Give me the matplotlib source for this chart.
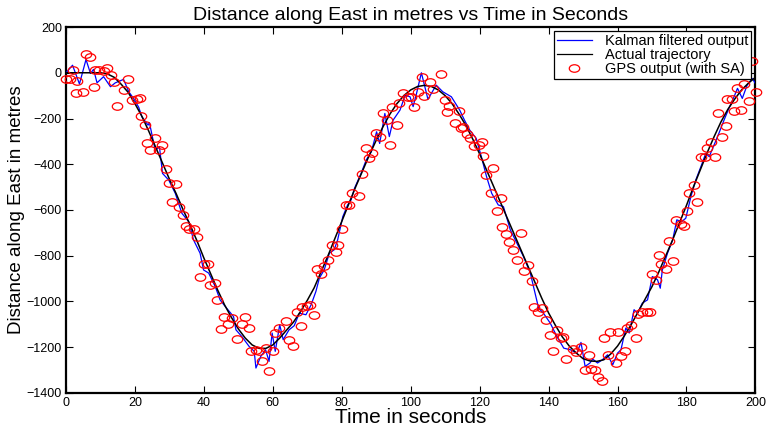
import numpy as np
import matplotlib
matplotlib.use("Agg")
import matplotlib.pyplot as plt
from matplotlib.path import Path

plt.rcParams['font.family'] = ['Liberation Sans', 'DejaVu Sans']

# ---------------- data ----------------
actual_t = list(range(0, 201, 2))
actual_v = [0, 0, 0, 0, 0, 0, -5, -20, -50, -85, -135, -190, -255, -325, -395, -465,
            -530, -600, -665, -735, -810, -880, -950, -1015, -1070, -1120, -1160, -1190,
            -1205, -1205, -1190, -1160, -1125, -1090, -1045, -995, -940, -870, -800, -725,
            -650, -575, -500, -430, -360, -295, -235, -180, -135, -100, -75, -60, -55, -60,
            -75, -100, -135, -180, -230, -290, -355, -425, -495, -565, -635, -705, -775,
            -845, -915, -985, -1050, -1105, -1155, -1195, -1225, -1250, -1260, -1262, -1255,
            -1230, -1195, -1150, -1100, -1045, -990, -935, -870, -800, -730, -655, -580,
            -500, -425, -350, -280, -215, -160, -115, -75, -45, -20]

kalman_t = [0, 1.9, 3.9, 5.8, 7.1, 8.0, 9.0, 10.9, 12.9, 14.3, 16.7, 18.2, 19.6, 21.1, 22.0,
            23.8, 24.2, 25.9, 27.1, 28.0, 29.8, 31.7, 33.6, 35.6, 37.0, 38.9, 39.9, 41.4,
            43.3, 44.7, 46.2, 48.6, 49.3, 51.1, 53.1, 54.6, 55.1, 56.5, 57.9, 58.9, 59.8,
            60.7, 62.0, 63.0, 64.7, 66.2, 67.7, 69.6, 71.1, 72.5, 73.5, 74.9, 76.4, 77.8,
            78.8, 80.3, 81.7, 82.7, 83.7, 85.6, 87.1, 88.6, 90.1, 91.0, 92.5, 93.8, 94.9,
            96.9, 98.4, 99.8, 100.7, 101.7, 103.1, 105.0, 107.4, 109.3, 111.8, 114.2, 115.6,
            117.1, 119.0, 120.5, 122.0, 123.5, 125.4, 126.9, 128.9, 130.8, 132.7, 134.7,
            137.1, 138.5, 140.5, 142.4, 144.4, 146.3, 148.2, 149.4, 150.6, 152.0, 152.8,
            154.2, 155.6, 157.1, 158.6, 160.0, 161.0, 162.4, 163.4, 164.8, 165.8, 167.2,
            168.7, 170.1, 171.6, 172.4, 173.0, 174.5, 176.0, 177.2, 178.6, 179.8, 181.3,
            182.7, 184.2, 185.6, 186.6, 188.0, 189.4, 190.9, 192.3, 193.8, 194.8, 196.2,
            197.6, 199.1, 200.0]
kalman_v = [0, 33, -49, 58, -3, 15, -44, -17, -61, -44, -29, -83, -112, -151, -192,
            -229, -218, -340, -323, -440, -469, -527, -614, -651, -731, -789, -862, -876,
            -935, -993, -1022, -1066, -1124, -1155, -1196, -1218, -1291, -1240, -1211, -1262,
            -1138, -1218, -1102, -1167, -1124, -1106, -1051, -1058, -1015, -956, -898, -862,
            -789, -774, -731, -629, -578, -556, -505, -440, -381, -345, -258, -309, -178,
            -279, -207, -163, -98, -105, -148, -90, 0, -116, -54, -83, -105, -163, -207,
            -250, -287, -367, -454, -527, -578, -585, -687, -745, -803, -876, -1029, -1051,
            -1095, -1153, -1204, -1211, -1226, -1179, -1284, -1269, -1252, -1269, -1255,
            -1233, -1277, -1226, -1211, -1116, -1138, -1036, -1051, -1007, -993, -891, -905,
            -942, -862, -789, -731, -643, -651, -636, -541, -469, -410, -352, -367, -316,
            -265, -207, -156, -105, -68, -112, -54, -25, -47]

gps_t = [0.0, 1.2, 1.9, 2.9, 3.2, 4.8, 5.8, 7.1, 8.0, 8.5, 9.7, 10.9, 11.9, 13.1, 13.8,
         14.8, 16.7, 18.0, 19.1, 20.6, 21.4, 21.8, 23.0, 23.5, 24.4, 25.9, 26.9, 27.8, 29.0,
         29.8, 30.7, 32.0, 32.8, 33.8, 34.8, 35.6, 37.0, 38.0, 38.9, 39.9, 41.2, 41.8, 43.1,
         43.8, 45.0, 45.7, 47.0, 48.1, 49.6,
         51.0, 51.9, 53.1, 53.6, 55.1, 56.0, 56.8, 57.9, 58.9, 60.1, 60.7, 61.8, 63.8, 64.7,
         65.9, 67.1, 68.1, 68.6, 69.8, 70.7, 72.0, 72.9, 73.9, 74.9, 76.1, 77.3, 78.2, 79.0,
         80.0, 81.2, 82.1, 82.9, 85.0, 85.8, 86.9, 87.9, 88.9, 89.8, 91.0, 91.9, 93.2, 93.9,
         94.7, 96.1, 96.6, 97.9, 99.3,
         100.2, 100.9, 102.1, 103.4, 104.0, 105.5, 106.5, 108.7, 109.9, 110.4, 111.1, 112.8,
         113.9, 114.6, 115.3, 116.3, 117.3, 118.3, 119.8, 120.8, 121.1, 121.9, 123.3, 124.0,
         124.9, 126.2, 126.6, 127.6, 128.6, 129.7, 130.9, 132.0, 132.8, 134.1, 135.2, 135.9,
         136.9, 138.1, 139.2, 140.4, 141.3, 142.3, 143.6, 144.3, 145.1, 147.0, 148.0, 149.4,
         150.7,
         151.8, 152.3, 153.4, 154.4, 155.4, 156.1, 157.1, 157.9, 159.5, 160.0, 161.0, 162.1,
         162.7, 163.9, 165.3, 165.8, 167.0, 168.5, 169.5, 170.1, 171.1, 172.1, 172.7, 174.0,
         175.0, 176.2, 176.9, 178.3, 179.3, 180.1, 180.8, 182.2, 183.2, 184.2, 185.3, 186.1,
         187.0, 188.3, 189.1, 190.4, 191.4, 191.9, 193.1, 193.8, 194.6, 195.9, 196.7, 198.1,
         199.1, 200.3]
gps_v = [-29, -29, 12, -90, -36, -83, 80, 70, -61, 12, 12, 9, 19, -10, -39,
         -144, -76, -26, -119, -116, -112, -188, -229, -306, -338, -287, -338, -316, -422,
         -483, -563, -488, -588, -622, -670, -684, -684, -719, -891, -835, -835, -930, -920,
         -993, -1121, -1066, -1098, -1073, -1163,
         -1098, -1066, -1116, -1218, -1211, -1218, -1262, -1204, -1306, -1218, -1138, -1116,
         -1087, -1170, -1196, -1044, -1106, -1022, -1019, -1015, -1060, -859, -879, -844,
         -818, -753, -782, -753, -684, -578, -578, -524, -539, -443, -330, -374, -352, -262,
         -279, -175, -207, -316, -148, -229, -131, -87, -108,
         -105, -151, -83, -20, -102, -39, -73, -7, -119, -170, -146, -218, -166, -243, -239,
         -269, -287, -320, -316, -301, -362, -447, -527, -418, -603, -549, -675, -704, -742,
         -777, -818, -702, -865, -840, -910, -1025, -1044, -1029, -1080, -1146, -1218,
         -1124, -1160, -1156, -1252, -1208, -1223, -1199, -1301,
         -1233, -1295, -1301, -1330, -1349, -1160, -1233, -1135, -1269, -1135, -1237, -1218,
         -1116, -1102, -1160, -1054, -1044, -1044, -1044, -879, -905, -796, -837, -856,
         -734, -824, -643, -661, -670, -603, -527, -490, -563, -367, -367, -330, -301, -367,
         -175, -279, -233, -115, -115, -166, -68, -163, -49, -122, 52, -84]

xticks = list(range(0, 201, 20))
yticks = list(range(-1400, 201, 200))

# ---------------- figure ----------------
fig = plt.figure(figsize=(7.72, 4.29), dpi=100)
ax = fig.add_axes([0.0855, 0.084, 0.893, 0.853])

# slightly flattened circle marker (reference circles are wider than tall)
uc = Path.unit_circle()
ell = Path(uc.vertices * np.array([1.0, 0.72]), uc.codes)

ax.plot(kalman_t, kalman_v, color='#0000ff', lw=0.9, label='Kalman filtered output', zorder=3)
ax.plot(actual_t, actual_v, color='black', lw=1.1, label='Actual trajectory', zorder=4)
ax.plot(gps_t, gps_v, linestyle='none', marker=ell, markersize=7.5, markerfacecolor='none',
        markeredgecolor='#ff0000', markeredgewidth=0.9, label='GPS output (with SA)',
        clip_on=False, zorder=5)

ax.set_xlim(0, 200)
ax.set_ylim(-1400, 200)
ax.set_xticks(xticks)
ax.set_yticks(yticks)
ax.tick_params(direction='in', top=True, right=True, length=5, width=0.8,
               labelsize=9, pad=3)
for s in ax.spines.values():
    s.set_linewidth(1.6)

ax.set_title('Distance along East in metres vs Time in Seconds', fontsize=14, pad=5)
ax.set_xlabel('Time in seconds', fontsize=15, labelpad=-1)
ax.set_ylabel('Distance along East in metres', fontsize=13.5, labelpad=1)

leg = ax.legend(loc='upper right', fontsize=10.5, frameon=True, fancybox=False,
                edgecolor='black', framealpha=1, borderpad=0.2, labelspacing=0.0,
                handlelength=2.4, handletextpad=0.9, numpoints=1, borderaxespad=0.3)
leg.get_frame().set_linewidth(0.9)
for h in leg.get_lines():
    h.set_linewidth(0.9)

fig.savefig('out.png', dpi=100)
